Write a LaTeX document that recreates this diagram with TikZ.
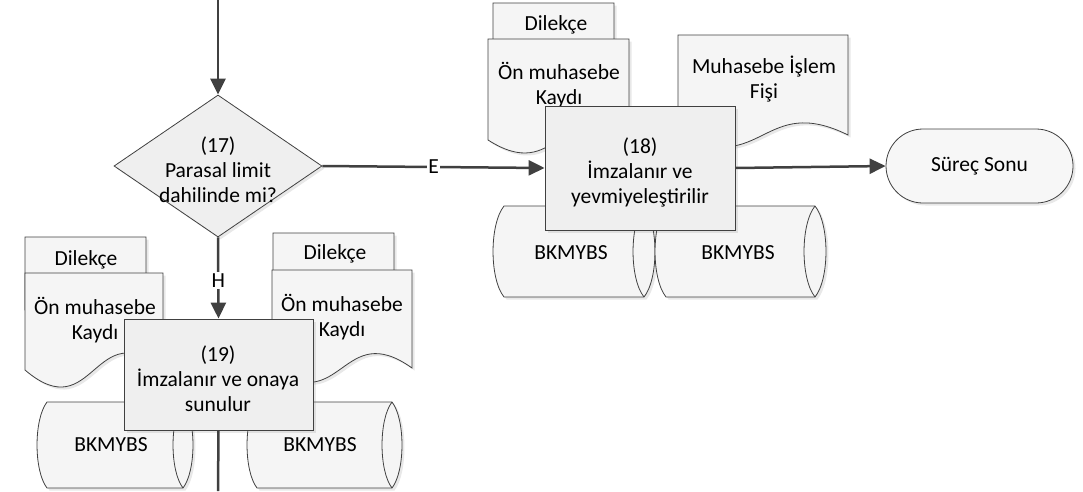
\documentclass[tikz,border=0pt]{standalone}
\usepackage{fontspec}
\setmainfont{Carlito}
\usetikzlibrary{shapes.geometric,arrows.meta,shadows}
\definecolor{ln}{HTML}{404040}
\definecolor{pfill}{HTML}{EFEFEF}
\definecolor{dfill}{HTML}{F5F5F5}
\tikzset{
  shp/.style={draw=ln, line width=0.8pt, drop shadow={shadow xshift=2.5pt, shadow yshift=-2.5pt, opacity=0.18}},
  proc/.style={rectangle, shp, fill=pfill, align=center, inner sep=0pt},
  txt/.style={align=center, inner sep=0pt},
  conn/.style={draw=ln, line width=2.5pt},
  arr/.style={conn, -{Triangle[length=16pt,width=15pt]}},
  lbl/.style={fill=white, inner sep=1.5pt},
}
% l t r yb d
\newcommand\docshape[5]{\path[shp,fill=dfill] (#1,#2) -- (#3,#2) -- (#3,#4) .. controls ({(#1+#3)/2},{#4-#5}) and ({(#1+#3)/2},{#4+#5}) .. (#1,#4) -- cycle;}
% l t r b a
\newcommand\cylshape[5]{%
  \path[shp,fill=dfill] ({#1+#5},#2) -- ({#3-#5},#2) .. controls ({#3+0.33*#5},{#2+0.2*(#4-#2)}) and ({#3+0.33*#5},{#4-0.2*(#4-#2)}) .. ({#3-#5},#4) -- ({#1+#5},#4) .. controls ({#1-0.33*#5},{#4-0.2*(#4-#2)}) and ({#1-0.33*#5},{#2+0.2*(#4-#2)}) .. ({#1+#5},#2) -- cycle;
  \draw[draw=ln,line width=0.8pt] ({#3-#5},#2) .. controls ({#3-2.33*#5},{#2+0.2*(#4-#2)}) and ({#3-2.33*#5},{#4-0.2*(#4-#2)}) .. ({#3-#5},#4);}
\begin{document}
\begin{tikzpicture}[x=1pt,y=-1pt, every node/.style={font=\fontsize{21.5pt}{25pt}\selectfont}]
\useasboundingbox (0,0) rectangle (1083,491);

% ---- top-right group (18) ----
\docshape{493}{3}{614}{80}{20}
\node[txt] (dil18) at (556,25) {Dilekçe};
\docshape{488}{39}{629}{140}{45}
\node[txt] (onm18) at (559,85.5) {Ön muhasebe\\Kaydı};
\docshape{678}{35}{848}{135}{42}
\node[txt] (fis18) at (764,79.5) {Muhasebe İşlem\\Fişi};
\cylshape{493}{206}{655}{297}{11}
\node[txt] (db18a) at (571,253) {BKMYBS};
\cylshape{655}{206}{826}{297}{11}
\node[txt] (db18b) at (738,253) {BKMYBS};
\node[proc, minimum width=190pt, minimum height=124pt] (p18) at (640,168) {};
\node[txt] (t18) at (640,172) {(18)\\İmzalanır ve\\yevmiyeleştirilir};

% ---- bottom-left group (19) ----
\docshape{25}{237}{146}{310}{20}
\node[txt] (dil19a) at (86,260) {Dilekçe};
\docshape{25}{273}{163}{370}{59}
\node[txt] (onm19a) at (95,320.5) {Ön muhasebe\\Kaydı};
\docshape{273}{233}{394}{305}{20}
\node[txt] (dil19b) at (335,254) {Dilekçe};
\docshape{272}{270}{412}{368}{50}
\node[txt] (onm19b) at (342,317) {Ön muhasebe\\Kaydı};
\cylshape{37}{402}{193}{488}{10}
\node[txt] (db19a) at (111,445) {BKMYBS};
\cylshape{247}{402}{402}{488}{10}
\node[txt] (db19b) at (320,445) {BKMYBS};
\node[proc, minimum width=189pt, minimum height=111pt] (p19) at (218.5,374.5) {};
\node[txt] (t19) at (218,379) {(19)\\İmzalanır ve onaya\\sunulur};

% ---- decision (17) ----
\node[diamond, shp, fill=pfill, minimum width=208pt, minimum height=142pt, inner sep=0pt] (d17) at (218,166) {};
\node[txt] (t17) at (218,170) {(17)\\Parasal limit\\dahilinde mi?};

% ---- terminal ----
\node[rectangle, rounded corners=37pt, shp, fill=white!50!pfill, minimum width=187pt, minimum height=74pt] (end) at (979.5,166) {Süreç Sonu};

% ---- connectors ----
\coordinate (top) at (218,0);
\coordinate (bot) at (218,491);
\draw[arr] (top) -- (d17.north);
\draw[arr] (d17.east) -- node[lbl] (lE) {E} (p18.west);
\draw[arr] (p18.east) -- (end.west);
\draw[arr] (d17.south) -- node[lbl, pos=0.53] (lH) {H} (p19.north);
\draw[conn] (p19.south) -- (bot);
\end{tikzpicture}
\end{document}
